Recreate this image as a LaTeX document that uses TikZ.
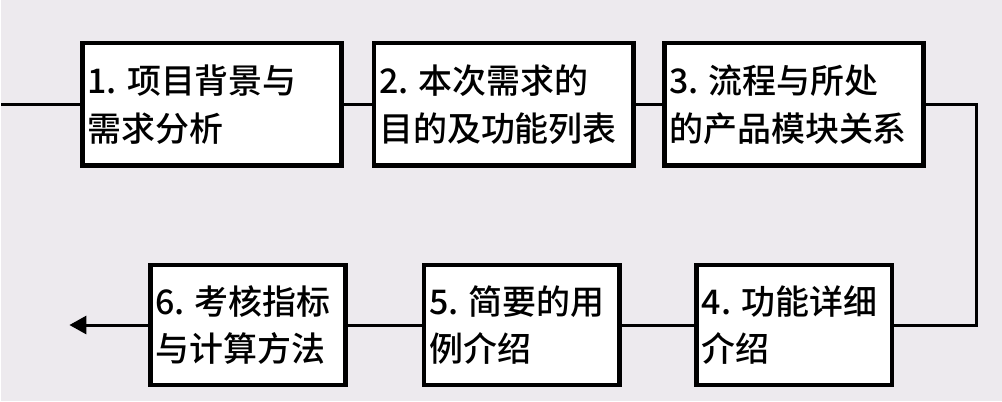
\documentclass[tikz,border=0pt]{standalone}
\usepackage{fontspec}
\newfontfamily\cjk{Noto Sans CJK SC}[UprightFont={* Medium}]
\usetikzlibrary{arrows.meta}
\definecolor{page-bg}{HTML}{EDEAEE}

\begin{document}
\begin{tikzpicture}[x=1pt, y=1pt,
      stepbox/.style={draw=black, line width=4.5pt, fill=white, align=left,
          inner xsep=5pt, inner ysep=0pt,
          font=\cjk\fontsize{34}{48}\selectfont},
      widebox/.style={stepbox, minimum width=259.5pt, text width=249.5pt,
          minimum height=122.5pt},
      narrowbox/.style={stepbox, minimum width=195.5pt, text width=185.5pt,
          minimum height=120.5pt},
      link/.style={draw=black, line width=3pt}]
    \fill[page-bg] (0,0) rectangle (1002,402);
    % top row, left to right
    \node[widebox] (S1) at (211,297.5) {1.\hspace{10pt}项目背景与\\需求分析};
    \node[widebox] (S2) at (503,297.5) {2.\hspace{10pt}本次需求的\\目的及功能列表};
    \node[widebox] (S3) at (793.5,297.5) {3.\hspace{10pt}流程与所处\\的产品模块关系};
    % bottom row, right to left
    \node[narrowbox] (S4) at (794,76.5) {4.\hspace{10pt}功能详细\\介绍};
    \node[narrowbox] (S5) at (521,76.5) {5.\hspace{10pt}简要的用\\例介绍};
    \node[narrowbox] (S6) at (247,76.5) {6.\hspace{10pt}考核指标\\与计算方法};
    \coordinate (IN) at (0,297.5);
    \coordinate (TURN) at (976,190);
    \coordinate (OUT) at (68,76.5);
    \draw[link] (IN) -- (S1.west);
    \draw[link] (S1.east) -- (S2.west);
    \draw[link] (S2.east) -- (S3.west);
    \draw[link] (S3.east) -| (TURN) |- (S4.east);
    \draw[link] (S4.west) -- (S5.east);
    \draw[link] (S5.west) -- (S6.east);
    \draw[link, -{Triangle[length=17pt, width=18pt]}] (S6.west) -- (OUT);
\end{tikzpicture}
\end{document}
